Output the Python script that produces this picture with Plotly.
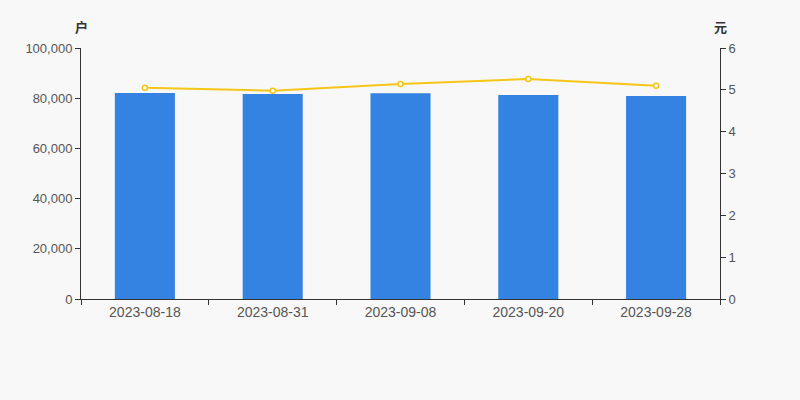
import plotly.graph_objects as go

dates = ["2023-08-18", "2023-08-31", "2023-09-08", "2023-09-20", "2023-09-28"]
holders = [82070, 81670, 81940, 81280, 80880]
price = [5.05, 4.98, 5.14, 5.26, 5.10]

y1_ticks = [0, 20000, 40000, 60000, 80000, 100000]
y1_labels = ["0", "20,000", "40,000", "60,000", "80,000", "100,000"]
y2_ticks = [0, 1, 2, 3, 4, 5, 6]

font = "Arial, Liberation Sans, Noto Sans CJK SC, sans-serif"

fig = go.Figure()
fig.add_trace(go.Bar(x=dates, y=holders, marker=dict(color="#3482e2", line=dict(width=0)),
                     width=0.47, yaxis="y"))
fig.add_trace(go.Scatter(x=dates, y=price, yaxis="y2", mode="lines+markers",
                         line=dict(color="#f5c518", width=2),
                         marker=dict(symbol="circle", size=5, color="#ffffff",
                                     line=dict(color="#f5c518", width=1.5))))

fig.update_layout(
    width=800, height=400,
    margin=dict(l=81, r=80, t=48, b=101),
    paper_bgcolor="#f8f8f8", plot_bgcolor="#f8f8f8",
    showlegend=False,
    font=dict(family=font, size=13, color="#555"),
    xaxis=dict(type="category", showline=True, linecolor="#333", linewidth=1,
               ticks="outside", tickson="boundaries", ticklen=5, tickcolor="#333",
               showgrid=False, tickfont=dict(size=14, color="#555")),
    yaxis=dict(range=[0, 100000], tickvals=y1_ticks, ticktext=y1_labels,
               showline=True, linecolor="#333", linewidth=1, ticks="outside",
               ticklen=5, tickcolor="#333", showgrid=False, zeroline=False,
               tickfont=dict(size=13, color="#555")),
    yaxis2=dict(range=[0, 6], tickvals=y2_ticks, overlaying="y", side="right",
                showline=True, linecolor="#333", linewidth=1, ticks="outside",
                ticklen=5, tickcolor="#333", showgrid=False, zeroline=False,
                tickfont=dict(size=13, color="#555")),
    annotations=[
        dict(text="<b>户</b>", xref="paper", yref="paper", x=0, y=1, yshift=21,
             showarrow=False, xanchor="center", yanchor="middle",
             font=dict(size=13, color="#333", family=font)),
        dict(text="<b>元</b>", xref="paper", yref="paper", x=1, y=1, yshift=21,
             showarrow=False, xanchor="center", yanchor="middle",
             font=dict(size=13, color="#333", family=font)),
    ],
)

fig.write_html("out.html", config={"displayModeBar": False},
               post_script="document.body.style.margin='0';document.body.style.background='#f8f8f8';")
